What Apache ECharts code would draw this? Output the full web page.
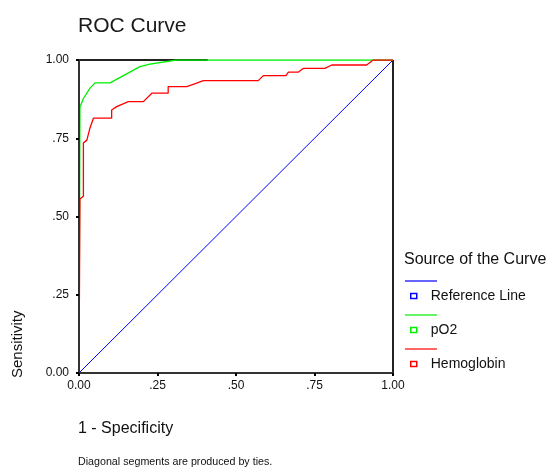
<!DOCTYPE html>
<html>
<head>
<meta charset="utf-8">
<script src="https://cdn.jsdelivr.net/npm/echarts@6/dist/echarts.min.js"></script>
<style>html,body{margin:0;padding:0;background:#fff}#c{width:551px;height:471px}</style>
</head>
<body>
<div id="c"></div>
<script>
// Data: [1 - Specificity, Sensitivity]
var referenceLine = [[0, 0], [1, 1]];
var pO2 = [[0, 0], [0.003, 0.85], [0.014, 0.877], [0.035, 0.91], [0.051, 0.927], [0.099, 0.927],
  [0.194, 0.979], [0.226, 0.987], [0.311, 1.0], [1, 1]];
var hemoglobin = [[0, 0], [0.003, 0.556], [0.014, 0.565], [0.014, 0.735], [0.025, 0.744], [0.035, 0.783],
  [0.046, 0.814], [0.104, 0.814], [0.104, 0.84], [0.12, 0.851], [0.157, 0.867], [0.205, 0.867],
  [0.232, 0.894], [0.284, 0.894], [0.284, 0.915], [0.343, 0.915], [0.375, 0.926], [0.396, 0.934],
  [0.571, 0.934], [0.587, 0.95], [0.659, 0.95], [0.667, 0.961], [0.698, 0.961], [0.714, 0.973],
  [0.783, 0.973], [0.805, 0.984], [0.916, 0.984], [0.937, 1.0], [1, 1]];
var topFrame = [[0, 1], [0.41, 1]];
var rightFrame = [[1, 0], [1, 1]];
var tickLabels = {0: '0.00', 0.25: '.25', 0.5: '.50', 0.75: '.75', 1: '1.00'};
var seriesNames = ['Reference Line', 'pO2', 'Hemoglobin'];
var seriesColors = ['#0000ff', '#00ee00', '#ff0000'];

var chart = echarts.init(document.getElementById('c'));
var font = '"Liberation Sans", Arial, sans-serif';
function fmt(v) { return tickLabels[v] !== undefined ? tickLabels[v] : ''; }

var legendLines = [];
var lineY = [281, 315, 349];
for (var i = 0; i < 3; i++) {
  legendLines.push({
    type: 'line', shape: {x1: 405, y1: lineY[i], x2: 437, y2: lineY[i]},
    style: {stroke: seriesColors[i], lineWidth: 1.2}
  });
}

chart.setOption({
  animation: false,
  backgroundColor: '#fff',
  grid: {left: 79, top: 60, width: 314, height: 313, containLabel: false},
  title: {
    text: 'ROC Curve', left: 78, top: 16, padding: 0,
    textStyle: {fontFamily: font, fontSize: 21, fontWeight: 'normal', color: '#1a1a1a'}
  },
  xAxis: {
    type: 'value', min: 0, max: 1, interval: 0.25, z: 5,
    axisLine: {show: true, lineStyle: {color: '#333', width: 2}},
    axisTick: {show: true, length: 3, lineStyle: {color: '#000', width: 2}},
    axisLabel: {formatter: fmt, fontFamily: font, fontSize: 12, color: '#111', margin: 7},
    splitLine: {show: false}
  },
  yAxis: {
    type: 'value', min: 0, max: 1, interval: 0.25, z: 5,
    axisLine: {show: true, lineStyle: {color: '#333', width: 2}},
    axisTick: {show: true, length: 3, lineStyle: {color: '#000', width: 2}},
    axisLabel: {formatter: fmt, fontFamily: font, fontSize: 12, color: '#111', margin: 10},
    splitLine: {show: false}
  },
  legend: {
    orient: 'vertical', left: 410, top: 288, padding: 0, itemWidth: 6, itemHeight: 5, itemGap: 18,
    data: seriesNames.map(function (n, i) {
      return {name: n, icon: 'rect',
        itemStyle: {color: '#fff', borderColor: seriesColors[i], borderWidth: 1.5}};
    }),
    textStyle: {fontFamily: font, fontSize: 14, color: '#111', lineHeight: 16, padding: [0, 0, 0, 9]},
    selectedMode: false
  },
  graphic: [
    {type: 'text', left: 404, top: 252, style: {text: 'Source of the Curve', font: '16px ' + font, fill: '#111'}},
    {type: 'text', left: 78, top: 421, style: {text: '1 - Specificity', font: '16px ' + font, fill: '#111'}},
    {type: 'text', left: 78, top: 457, style: {text: 'Diagonal segments are produced by ties.', font: '10.7px ' + font, fill: '#111'}},
    {type: 'text', x: 10, y: 378, rotation: Math.PI / 2,
      style: {text: 'Sensitivity', font: '15px ' + font, fill: '#111', textAlign: 'left', textVerticalAlign: 'top'}},
  ].concat(legendLines),
  series: [
    {name: 'Reference Line', type: 'line', data: referenceLine, showSymbol: false, symbol: 'none',
      lineStyle: {color: seriesColors[0], width: 1}, itemStyle: {color: seriesColors[0]}, z: 2},
    {name: 'frame-top', type: 'line', data: topFrame, symbol: 'none',
      lineStyle: {color: '#222', width: 2}, z: 1},
    {name: 'frame-right', type: 'line', data: rightFrame, symbol: 'none',
      lineStyle: {color: '#222', width: 2}, z: 1},
    {name: 'pO2', type: 'line', data: pO2, showSymbol: false, symbol: 'none',
      lineStyle: {color: seriesColors[1], width: 1.3}, itemStyle: {color: seriesColors[1]}, z: 3},
    {name: 'Hemoglobin', type: 'line', data: hemoglobin, showSymbol: false, symbol: 'none',
      lineStyle: {color: seriesColors[2], width: 1.3}, itemStyle: {color: seriesColors[2]}, z: 3}
  ]
});
</script>
</body>
</html>
